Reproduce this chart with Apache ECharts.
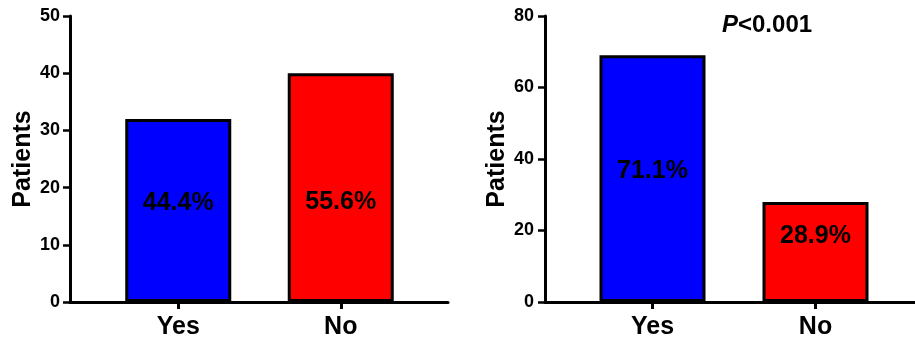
<!DOCTYPE html>
<html>
<head>
<meta charset="utf-8">
<script src="https://cdn.jsdelivr.net/npm/echarts@6/dist/echarts.min.js"></script>
<style>
html,body{margin:0;padding:0;background:#fff;}
#chart{width:915px;height:343px;}
</style>
</head>
<body>
<div id="chart"></div>
<script>
// ---- data ----
const categories = ['Yes', 'No'];
const leftValues = [32, 40];
const leftPercents = ['44.4%', '55.6%'];
const rightValues = [69, 28];
const rightPercents = ['71.1%', '28.9%'];
const yAxisName = 'Patients';
const pValueText = 'P<0.001';

// ---- styles ----
const FONT = '"Liberation Sans", Arial, sans-serif';
const barColors = ['#0000ff', '#ff0000'];
const leftLabelOffsets = [[0, -7], [0, 15]];
const rightLabelOffsets = [[0, -8], [0, -16]];

function barData(values, percents, offsets) {
  return values.map((v, i) => ({
    value: v,
    itemStyle: { color: barColors[i] },
    label: { formatter: percents[i], offset: offsets[i] }
  }));
}

const chart = echarts.init(document.getElementById('chart'), null, { renderer: 'canvas' });

const TOP = 16, BOTTOM = 41;

function frameY(gridIndex, max, interval, margin) {
  return {
    type: 'value', gridIndex, min: 0, max, interval,
    name: yAxisName, nameLocation: 'middle', nameGap: 33, nameRotate: 90,
    nameTextStyle: { fontFamily: FONT, fontWeight: 'bold', fontSize: 25, color: '#000' },
    axisLine: { show: true, lineStyle: { color: '#000', width: 3 } },
    axisTick: { show: true, length: 7, lineStyle: { color: '#000', width: 2.5 } },
    axisLabel: { fontFamily: FONT, fontWeight: 'bold', fontSize: 18, color: '#000', margin },
    splitLine: { show: false }
  };
}
function frameX(gridIndex) {
  return {
    type: 'value', gridIndex, min: 0, max: 1,
    axisLine: { show: true, onZero: false, lineStyle: { color: '#000', width: 3 } },
    axisTick: { show: false }, axisLabel: { show: false }, splitLine: { show: false }
  };
}
function plotX(gridIndex) {
  return {
    type: 'category', gridIndex, data: categories,
    axisLine: { show: false },
    axisTick: { show: true, alignWithLabel: true, length: 7, lineStyle: { color: '#000', width: 3 } },
    axisLabel: { fontFamily: FONT, fontWeight: 'bold', fontSize: 25, color: '#000', margin: 13 }
  };
}
function plotY(gridIndex, max) {
  return { type: 'value', gridIndex, min: 0, max, show: false, splitLine: { show: false } };
}
function barSeries(xi, yi, values, percents, offsets) {
  return {
    type: 'bar', xAxisIndex: xi, yAxisIndex: yi,
    barWidth: 106,
    data: barData(values, percents, offsets),
    itemStyle: { borderColor: '#000', borderWidth: 3 },
    label: {
      show: true, position: 'inside',
      fontFamily: FONT, fontWeight: 'bold', fontSize: 25, color: '#000'
    },
    silent: true, animation: false
  };
}

const option = {
  animation: false,
  backgroundColor: '#fff',
  title: {
    text: '{i|P}<0.001',
    left: 717, top: 8,
    textStyle: {
      fontFamily: FONT, fontWeight: 'bold', fontSize: 24, color: '#000',
      rich: { i: { fontFamily: FONT, fontStyle: 'italic', fontWeight: 'bold', fontSize: 24, color: '#000' } }
    }
  },
  grid: [
    { left: 70, right: 467, top: TOP, bottom: BOTTOM },      // left frame
    { left: 97, right: 493, top: TOP, bottom: BOTTOM },      // left plot
    { left: 545, right: -8, top: TOP, bottom: BOTTOM },      // right frame
    { left: 571, right: 18, top: TOP, bottom: BOTTOM }       // right plot
  ],
  xAxis: [frameX(0), plotX(1), frameX(2), plotX(3)],
  yAxis: [frameY(0, 50, 10, 10), plotY(1, 50), frameY(2, 80, 20, 11), plotY(3, 80)],
  series: [
    barSeries(1, 1, leftValues, leftPercents, leftLabelOffsets),
    barSeries(3, 3, rightValues, rightPercents, rightLabelOffsets)
  ]
};
chart.setOption(option);
</script>
</body>
</html>
